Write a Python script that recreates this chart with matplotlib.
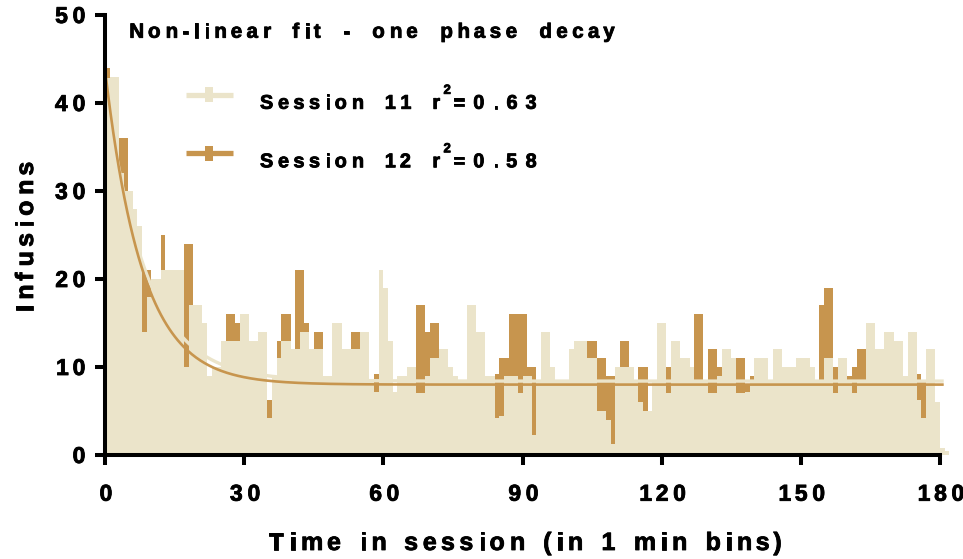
import numpy as np
import matplotlib
matplotlib.use("Agg")
import matplotlib.pyplot as plt
import matplotlib.patheffects as pe
from matplotlib.font_manager import FontProperties, findfont, get_font
from matplotlib.lines import Line2D
from matplotlib.patches import Rectangle

# ---------------- data ----------------
minutes = np.arange(182)

session11 = [42.8, 43, 43, 32, 30, 30, 28, 26, 14, 18,
             20, 20, 21, 21, 21, 21, 21, 10, 17, 17,
             17, 15, 9, 10, 10, 13, 13, 13, 13, 16,
             16, 13, 13, 14, 14, 4.2, 9, 11, 13, 13,
             12, 12, 14, 14, 12, 12, 12, 9, 9, 15,
             15, 12, 12, 12, 12, 14, 14, 8.5, 7.2, 21,
             19, 13, 7.2, 9, 9, 10, 10, 7, 7, 9,
             11, 11, 12, 12, 10, 9, 8.5, 8.5, 17, 17,
             14, 14, 9, 9, 4.2, 4.4, 9, 9, 9, 7,
             9, 9, 2.3, 8.5, 14, 14, 10, 8.5, 8.5, 8.5,
             12, 13, 13, 13, 11, 11, 5, 5, 4, 1.3,
             10, 10, 10, 10, 8.5, 6, 5, 5, 8.5, 15,
             15, 7, 13, 13, 11, 11, 10, 8.5, 8.5, 8.5,
             7, 7, 9, 12, 12, 11, 7, 7, 7.2, 8.5,
             11, 11, 11, 8.5, 12, 12, 10, 10, 10, 11,
             11, 11, 10, 8.5, 8.5, 11, 11, 7, 11, 11,
             8.5, 7, 8.5, 8.5, 15, 15, 12, 12, 14, 14,
             13, 13, 9, 14, 14, 6.2, 4.2, 12, 12, 6,
             0.8, 0.5]

session12 = [44, 40, 39, 36, 36, 28, 26, 24, 21, 21,
             17, 18, 25, 17, 16, 15, 14, 24, 24, 12,
             13, 10, 8, 9, 9, 10, 16, 16, 15, 12,
             10, 11, 12, 10, 11, 6.2, 8, 13, 16, 16,
             10, 21, 21, 15, 10, 14, 14, 8, 8, 12,
             10, 11, 9, 14, 14, 10, 12, 7, 9.2, 12,
             10, 9, 5, 8, 7, 9, 8, 17, 17, 14,
             15, 15, 10, 9, 8, 8, 7, 8, 12, 10,
             11, 9, 8, 7, 9.2, 11, 11, 16, 16, 16,
             16, 10, 10, 7, 10, 9, 8, 7, 8, 7,
             9, 10, 11, 9, 13, 13, 11, 11, 9, 9,
             8, 13, 13, 8, 7, 10, 10, 5, 7, 10,
             9, 10, 9, 10, 9, 8, 9, 16, 16, 7,
             12, 12, 10, 10, 11, 9, 11, 11, 8, 9,
             9, 8, 9, 7, 9, 10, 8, 9, 8, 9,
             8, 9, 8, 7, 17, 19, 19, 10, 9, 8,
             9, 10, 12, 12, 10, 9, 10, 9, 10, 9,
             10, 9, 8, 9, 8, 9.2, 8.4, 9, 8, 5,
             0.5, 0]

# one-phase-decay fit parameters (Y0, plateau, K)
fit11_y0, fit11_plateau, fit11_k = 42.5, 8.4, 0.115
fit12_y0, fit12_plateau, fit12_k = 43.8, 8.0, 0.125
fit_end = 180.8

x_ticks = [0, 30, 60, 90, 120, 150, 180]
y_ticks = [0, 10, 20, 30, 40, 50]
title_text = "Non-linear fit - one phase decay"
legend_rows = [("Session 11 r", "2", "=0.63"), ("Session 12 r", "2", "=0.58")]
x_label = "Time in session (in 1 min bins)"
y_label = "Infusions"

# ---------------- style ----------------
LIGHT = "#EBE4CA"
DARK = "#C7954E"
FAMILY = "Liberation Sans"
TRACK = 4.5   # letter spacing in pixels
W, H = 963, 559
DPI = 100
HEAVY = [pe.withStroke(linewidth=0.6, foreground="black")]

fig = plt.figure(figsize=(W / DPI, H / DPI), dpi=DPI)
ax = fig.add_axes([105 / W, (H - 455) / H, 835 / W, 440 / H])

ax.bar(minutes, session12, width=1.0, align="edge", color=DARK,
       linewidth=0, zorder=1, clip_on=False)
ax.bar(minutes, session11, width=1.0, align="edge", color=LIGHT,
       linewidth=0, zorder=2, clip_on=False)

xf = np.linspace(0, fit_end, 600)
ax.plot(xf, (fit11_y0 - fit11_plateau) * np.exp(-fit11_k * xf) + fit11_plateau,
        color=LIGHT, lw=2.4, zorder=3, clip_on=False, solid_capstyle="butt")
ax.plot(xf, (fit12_y0 - fit12_plateau) * np.exp(-fit12_k * xf) + fit12_plateau,
        color=DARK, lw=1.9, zorder=4, clip_on=False, solid_capstyle="butt")

ax.set_xlim(0, 180)
ax.set_ylim(0, 50)
ax.set_xticks(x_ticks)
ax.set_yticks(y_ticks)
for s in ("top", "right"):
    ax.spines[s].set_visible(False)
for s in ("left", "bottom"):
    ax.spines[s].set_linewidth(2.9)
    ax.spines[s].set_color("black")
    ax.spines[s].set_zorder(5)
ax.tick_params(direction="out", length=7.2, width=2.9, color="black",
               labelleft=False, labelbottom=False)
ax.patch.set_alpha(0)

# overlay in image pixel coordinates for text
ox = fig.add_axes([0, 0, 1, 1], zorder=10)
ox.set_xlim(0, W)
ox.set_ylim(H, 0)
ox.axis("off")


def metrics(ch, size):
    prop = FontProperties(family=FAMILY, weight="bold", size=size)
    font = get_font(findfont(prop))
    font.set_size(size, DPI)
    g = font.load_char(ord(ch))
    return g.linearHoriAdvance / 65536.0, g.horiBearingX / 64.0, g.width / 64.0


def build(s, size, track=TRACK, rz=0.0):
    return [[c, size, rz, track] + list(metrics(c, size)) for c in s]


def span(items):
    pos, left, right = 0.0, None, None
    for c, size, rz, tr, adv, bx, w in items:
        if c != " ":
            l, r = pos + bx, pos + bx + w
            left = l if left is None else min(left, l)
            right = r if right is None else max(right, r)
        pos += adv + tr
    return left, right


def fit_spaces(items, width):
    for it in items:
        if it[0] == " ":
            it[4] = 0.0
    l, r = span(items)
    n = sum(1 for it in items if it[0] == " ")
    sp = (width - (r - l)) / max(n, 1)
    for it in items:
        if it[0] == " ":
            it[4] = sp
    return items


def fit_track(items, width):
    for it in items[:-1]:
        it[3] = 0.0
    l, r = span(items)
    tr = (width - (r - l)) / max(len(items) - 1, 1)
    for it in items[:-1]:
        it[3] = tr
    return items


def draw(x, y, items, ha="left", rot=0):
    l, r = span(items)
    off = {"left": x - l, "right": x - r, "center": x - (l + r) / 2}[ha]
    pos = 0.0
    for c, size, rz, tr, adv, bx, w in items:
        if c != " ":
            u = off + pos + bx
            if rot == 0:
                ox.text(u, y - rz, c, fontsize=size, fontweight="bold",
                        family=FAMILY, ha="left", va="baseline",
                        color="black", path_effects=HEAVY)
            else:
                ox.text(x_base_rot[0], y - (u - x), c, fontsize=size,
                        fontweight="bold", family=FAMILY, ha="left",
                        va="baseline", rotation=90, rotation_mode="anchor",
                        color="black", path_effects=HEAVY)
        pos += adv + tr


x_base_rot = [0.0]

fig.canvas.draw()

# tick labels
for t in x_ticks:
    px, py = ax.transData.transform((t, 0))
    draw(px, 500.7, build(str(t), 16.5), ha="center")
for t in y_ticks:
    px, py = ax.transData.transform((0, t))
    draw(83.5, (H - py) + 8.0, build(str(t), 16.5), ha="right")

# axis labels
draw(268.3, 550, fit_spaces(build(x_label, 18), 780.5 - 268.3))
x_base_rot[0] = 33.0
draw(0.0, 311.7, fit_track(build(y_label, 18), 311.7 - 163.5), rot=90)

# title
draw(129.3, 37.7, fit_spaces(build(title_text, 14.8), 614.5 - 129.3))

# legend
colors = [LIGHT, DARK]
for i, (pre, sup, post) in enumerate(legend_rows):
    yc = 94.5 + i * 58.5
    base = yc + 14.3
    ox.add_line(Line2D([186, 233], [yc, yc], color=colors[i], lw=3.8,
                       solid_capstyle="butt"))
    ox.add_patch(Rectangle((205, yc - 7.5), 8.3, 15, color=colors[i], lw=0))
    draw(260, base, fit_spaces(build(pre, 14.3), 438.5 - 260))
    draw(443.5, base, build(sup, 9.5, rz=15.0))
    draw(453.5, base, fit_track(build(post, 14.3), 535.5 - 453.5))

fig.savefig("out.png", dpi=DPI)
